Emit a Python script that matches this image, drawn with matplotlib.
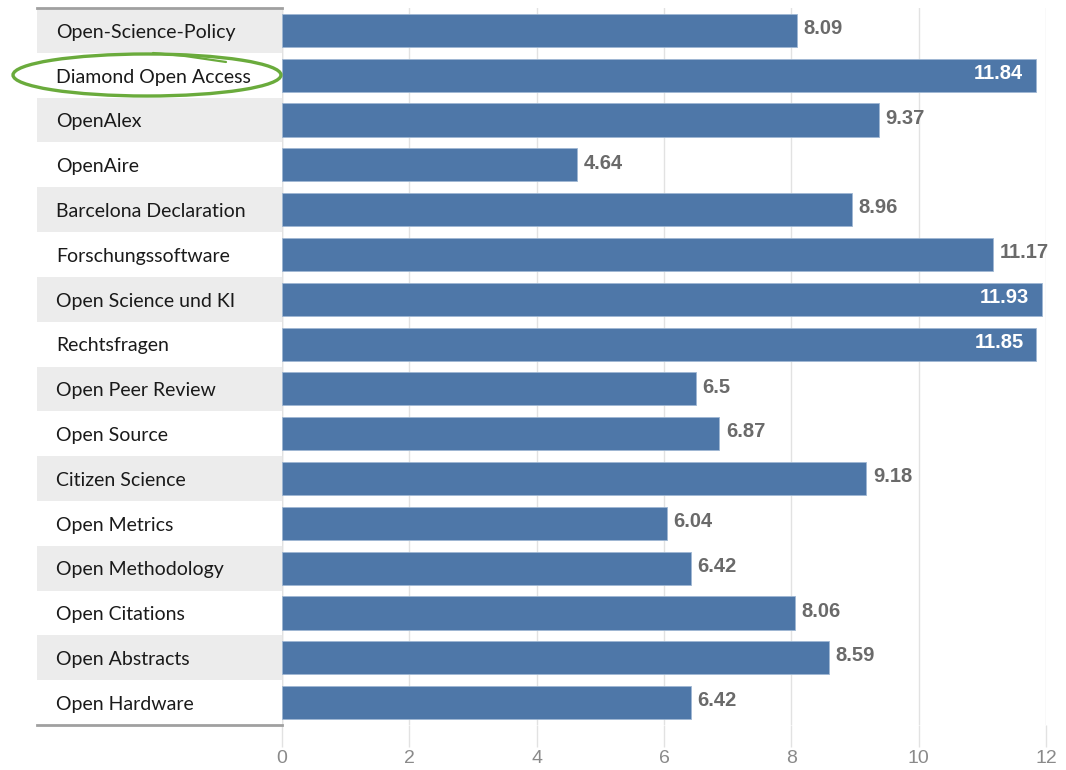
import matplotlib.pyplot as plt
from matplotlib.patches import Ellipse, Rectangle
import numpy as np

topics = ['Open-Science-Policy', 'Diamond Open Access', 'OpenAlex', 'OpenAire',
          'Barcelona Declaration', 'Forschungssoftware', 'Open Science und KI',
          'Rechtsfragen', 'Open Peer Review', 'Open Source', 'Citizen Science',
          'Open Metrics', 'Open Methodology', 'Open Citations', 'Open Abstracts',
          'Open Hardware']
scores = [8.09, 11.84, 9.37, 4.64, 8.96, 11.17, 11.93, 11.85, 6.5, 6.87, 9.18,
          6.04, 6.42, 8.06, 8.59, 6.42]
ticks = [0, 2, 4, 6, 8, 10, 12]

W, H = 1066, 770
bar_col = '#4e77a8'
n = len(topics)
y = np.arange(n)
num_font = 'Liberation Sans'

fig = plt.figure(figsize=(W/100, H/100), dpi=100)
fig.patch.set_facecolor('white')

bot = 1 - 725/H
top = 1 - 8/H

# bars
ax = fig.add_axes([282/W, bot, (1046-282)/W, top-bot])
ax.barh(y, scores, height=0.74, color=bar_col, edgecolor='#9fb7d3', linewidth=0.6, zorder=3)
ax.set_xlim(0, 12)
ax.set_ylim(n-0.5, -0.5)
ax.set_xticks(ticks)
ax.set_xticklabels([str(t) for t in ticks], family=num_font, fontsize=14, color='#8a8a8a')
ax.set_yticks([])
ax.tick_params(axis='x', length=16, color='#e2e2e2', width=1, pad=2)
ax.grid(axis='x', color='#e2e2e2', linewidth=1, zorder=0)
for s in ax.spines.values():
    s.set_visible(False)
ax.axvline(0, color='#d8d8d8', linewidth=1, zorder=1)

for i, v in enumerate(scores):
    if v >= 11.5:
        ax.text(v - 0.2, i - 0.04, str(v), ha='right', va='center', color='white',
                fontsize=14.5, fontweight='bold', family=num_font, zorder=4)
    else:
        ax.text(v + 0.1, i - 0.04, str(v), ha='left', va='center', color='#6a6a6a',
                fontsize=14.5, fontweight='bold', family=num_font, zorder=4)

# label panel
lab = fig.add_axes([37/W, bot, (282-37)/W, top-bot])
lab.set_xlim(0, 1)
lab.set_ylim(n-0.5, -0.5)
lab.axis('off')
for i, t in enumerate(topics):
    if i % 2 == 0:
        lab.add_patch(Rectangle((0, i-0.5), 1, 1, color='#ececec', lw=0))
    lab.text(19/245, i + 0.04, t, ha='left', va='center', fontsize=14, color='#1a1a1a', family='Lato')
lab.plot([0, 1], [-0.5, -0.5], color='#a0a0a0', lw=2, clip_on=False)
lab.plot([0, 1], [n-0.5, n-0.5], color='#a0a0a0', lw=2, clip_on=False)

# green highlight
ov = fig.add_axes([0, 0, 1, 1], facecolor='none')
ov.set_xlim(0, W)
ov.set_ylim(H, 0)
ov.axis('off')
ov.add_patch(Ellipse((147, 75), 268, 42, fill=False, edgecolor='#6aab3c', lw=2.4))
ov.plot([153, 185, 226], [53, 56, 62], color='#6aab3c', lw=1.6, solid_capstyle='round')

fig.savefig('out.png', dpi=100)
